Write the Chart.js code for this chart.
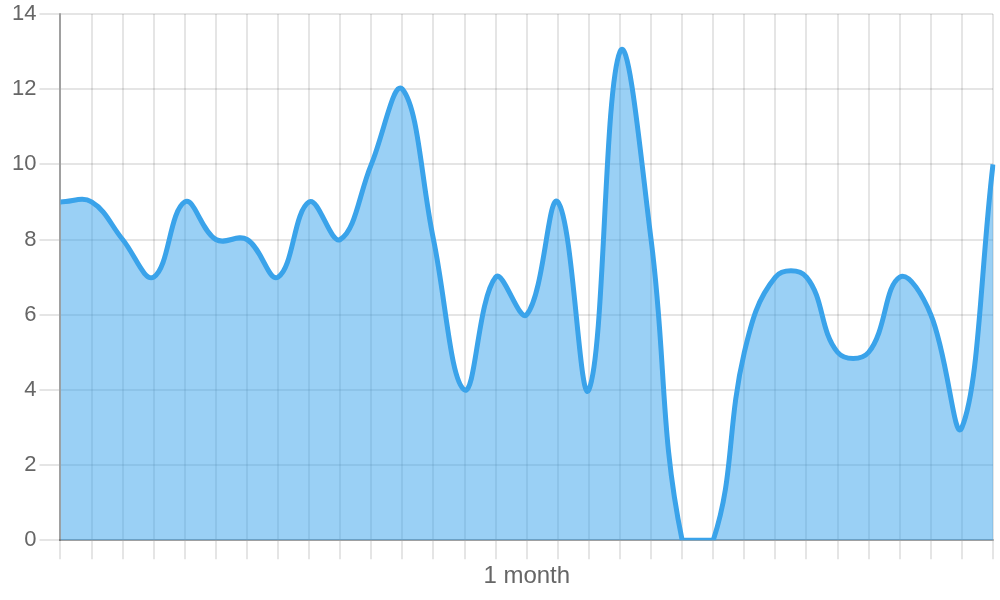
<!DOCTYPE html>
<html>
<head>
<meta charset="utf-8">
<script src="https://cdn.jsdelivr.net/npm/chart.js@4"></script>
<style>
html,body{margin:0;padding:0;background:#fff;}
#wrap{width:1000px;height:600px;}
</style>
</head>
<body>
<div id="wrap"><canvas id="c" width="1000" height="600"></canvas></div>
<script>
const categories = ['', '', '', '', '', '', '', '', '', '', '', '', '', '', '', '1 month', '', '', '', '', '', '', '', '', '', '', '', '', '', '', ''];
const seriesValues = [9, 9, 8, 7, 9, 8, 8, 7, 9, 8, 10, 12, 8, 4, 7, 6, 9, 4, 13, 8, 0, 0, 5, 7, 7, 5, 5, 7, 6, 3, 10];
const yTicks = [0, 2, 4, 6, 8, 10, 12, 14];

new Chart(document.getElementById('c'), {
  type: 'line',
  data: {
    labels: categories,
    datasets: [{
      data: seriesValues,
      borderColor: 'rgb(58,163,234)',
      backgroundColor: 'rgba(54,162,235,0.5)',
      borderWidth: 5,
      fill: 'origin',
      tension: 0.4,
      pointRadius: 0,
      pointHoverRadius: 0
    }]
  },
  options: {
    responsive: false,
    animation: false,
    devicePixelRatio: 1,
    layout: { padding: { left: 9, right: 7, top: 0, bottom: 6 } },
    plugins: { legend: { display: false }, tooltip: { enabled: false } },
    scales: {
      x: {
        offset: false,
        grid: { color: 'rgba(0,0,0,0.1)', lineWidth: 2, tickLength: 19 },
        border: { color: 'rgba(0,0,0,0.3)', width: 2 },
        ticks: {
          autoSkip: false,
          maxRotation: 0,
          padding: 3,
          color: '#666',
          font: { family: 'Liberation Sans, Arial, sans-serif', size: 24 }
        }
      },
      y: {
        min: 0,
        max: 14,
        afterBuildTicks: (axis) => { axis.ticks = yTicks.map(v => ({ value: v })); },
        grid: { color: 'rgba(0,0,0,0.1)', lineWidth: 2, tickLength: 21 },
        border: { color: 'rgba(0,0,0,0.3)', width: 2 },
        ticks: {
          padding: 3,
          color: '#666',
          font: { family: 'Liberation Sans, Arial, sans-serif', size: 22, lineHeight: 1.0 }
        }
      }
    }
  }
});
</script>
</body>
</html>
